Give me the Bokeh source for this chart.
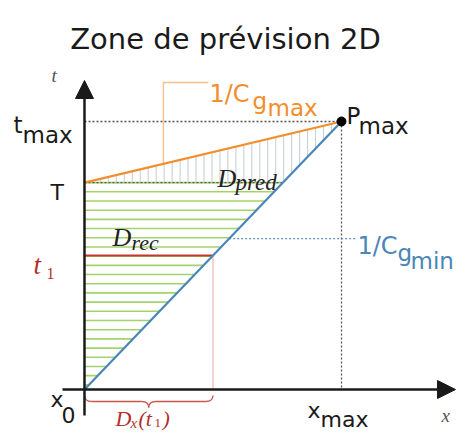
import numpy as np
from bokeh.plotting import figure
from bokeh.models import Range1d, Label, Arrow, NormalHead
from bokeh.embed import file_html
from bokeh.resources import INLINE

# ---- data (diagram values) ----
x_0 = 0.0
x_max = 1.0
t_max = 1.0
T = 0.772
t_1 = 0.5
green_step = 0.0343   # spacing of D_rec hatching (in t)
pred_step = 0.031     # spacing of D_pred hatching (in x)

title = "Zone de prévision 2D"

ORANGE = "#f28e2b"
BLUE = "#4a86b8"
RED = "#c0392b"
TXT_RED = "#b3302a"
GREEN = "#a3d36b"
HATCH = "#c8d0da"
GRAY = "#555555"
INK = "#1a1a1a"

def x_on_blue(t):
    return x_0 + (t / t_max) * (x_max - x_0)

def t_on_orange(x):
    return T + (t_max - T) * (x - x_0) / (x_max - x_0)

p = figure(width=456, height=432, x_range=Range1d(-0.3268, 1.4475),
           y_range=Range1d(-0.1604, 1.4515), output_backend="svg",
           toolbar_location=None, x_axis_type=None, y_axis_type=None,
           title=None, min_border=0, min_border_left=0, min_border_right=0,
           min_border_top=0, min_border_bottom=0)
p.grid.visible = False
p.outline_line_color = None
p.background_fill_color = "white"

# ---- D_rec green hatching ----
levels = np.arange(T, 0.0, -green_step)
p.segment(x0=[x_0] * len(levels), y0=levels, x1=[x_on_blue(v) for v in levels],
          y1=levels, line_color=GREEN, line_width=1.6)

# ---- D_pred vertical hatching ----
xs = np.arange(pred_step, x_max, pred_step)
lo = [max(T, v * t_max / x_max) for v in xs]
hi = [t_on_orange(v) for v in xs]
p.segment(x0=xs, y0=lo, x1=xs, y1=hi, line_color=HATCH, line_width=1.1)

# ---- dotted guides ----
p.line([x_0, x_max], [t_max, t_max], line_color=GRAY, line_width=1.3, line_dash="2 2")
p.line([x_max, x_max], [t_max, 0], line_color=GRAY, line_width=1.3, line_dash="2 2")
p.line([x_0, x_on_blue(T)], [T, T], line_color=GRAY, line_width=1.3, line_dash="2 2")

# t1 line and its projection
x_1 = x_on_blue(t_1)
p.line([x_0, x_1], [t_1, t_1], line_color=RED, line_width=2.2)
p.line([x_1, x_1], [t_1, 0], line_color=RED, line_width=1.1, line_dash="1 1", alpha=0.8)

# leaders
xl = 0.307
p.line([xl, xl, 0.482], [t_on_orange(xl), 1.1455, 1.1455], line_color=ORANGE,
       line_width=1.4, alpha=0.55)
tb = 0.563
p.line([x_on_blue(tb), 1.054], [tb, tb], line_color=BLUE, line_width=1.2,
       line_dash="2 2", alpha=0.9)

# main lines
p.line([x_0, x_max], [T, t_max], line_color=ORANGE, line_width=2.2)
p.line([x_0, x_max], [0, t_max], line_color=BLUE, line_width=2.2)

# axes with arrows
p.add_layout(Arrow(end=NormalHead(size=18, fill_color=INK, line_color=INK),
                   x_start=-0.0856, y_start=0, x_end=1.4436, y_end=0,
                   line_color=INK, line_width=2.5))
p.add_layout(Arrow(end=NormalHead(size=18, fill_color=INK, line_color=INK),
                   x_start=0, y_start=-0.097, x_end=0, y_end=1.153,
                   line_color=INK, line_width=2.5))

# brace under x axis from x_0 to x_1
top, mid, tip = -0.0224, -0.0448, -0.0672
q = 0.028
xm = (x_0 + x_1) / 2
p.quadratic(x0=[x_0, xm, xm, x_1], y0=[top, tip, tip, top],
            x1=[x_0 + q, xm - q, xm + q, x_1 - q], y1=[mid, mid, mid, mid],
            cx=[x_0, xm, xm, x_1], cy=[mid, mid, mid, mid],
            line_color=RED, line_width=1.3, line_alpha=0.85)
p.segment(x0=[x_0 + q, xm + q], y0=[mid, mid], x1=[xm - q, x_1 - q], y1=[mid, mid],
          line_color=RED, line_width=1.3, line_alpha=0.85)

# P_max point
p.scatter([x_max], [t_max], size=9, color="black")

# ---- text ----
def lab(text, x, y, dx, dy, size, color=INK, font="DejaVu Sans", style="normal"):
    p.add_layout(Label(x=x, y=y, x_offset=dx, y_offset=dy, text=text,
                       text_font=font, text_font_size=f"{size}px",
                       text_font_style=style, text_color=color,
                       text_baseline="alphabetic", text_align="left"))

SERIF = "Liberation Serif"

p.add_layout(Label(x=225, y=394, x_units="screen", y_units="screen", text=title,
                   text_font="DejaVu Sans", text_font_size="29px",
                   text_color=INK, text_align="center", text_baseline="alphabetic"))

lab("t", x_0, t_max, -71, -3, 23)
lab("max", x_0, t_max, -62, -13, 23)
lab("T", x_0, T, -34, -10, 22)
lab("t", x_0, t_1, -51, -9, 27, TXT_RED, SERIF, "italic")
lab("1", x_0, t_1, -38, -18, 16, TXT_RED, SERIF)
lab("x", x_0, 0, -34, -10, 22)
lab("0", x_0, 0, -23, -25, 22)
lab("x", x_max, 0, -34, -21, 22)
lab("max", x_max, 0, -21, -30, 22)
lab("P", x_max, t_max, 5, 6, 23)
lab("max", x_max, t_max, 17, -4, 23)
lab("x", x_max, 0, 100, -26, 19, "#555555", SERIF, "italic")
lab("t", x_0, t_max, -33, 46, 19, "#555555", SERIF, "italic")
lab("1/C", x_0, t_max, 125, 28, 24, ORANGE)
lab("g", x_0, t_max, 168, 21, 23, ORANGE)
lab("max", x_0, t_max, 183, 14, 23, ORANGE)
lab("1/C", x_max, t_1, 16, 10, 24, BLUE)
lab("g", x_max, t_1, 56, 3, 23, BLUE)
lab("min", x_max, t_1, 69, -5, 23, BLUE)
lab("D", x_0, T, 133, 4, 26, "#222222", SERIF, "italic")
lab("pred", x_0, T, 151, 0, 23, "#222222", SERIF, "italic")
lab("D", x_0, T, 28, -55, 26, "#222222", SERIF, "italic")
lab("rec", x_0, T, 47, -60, 22, "#222222", SERIF, "italic")
lab("D", x_0, 0, 31, -29, 22, TXT_RED, SERIF, "italic")
lab("x", x_0, 0, 46, -33, 15, TXT_RED, SERIF, "italic")
lab("(t", x_0, 0, 54, -29, 22, TXT_RED, SERIF, "italic")
lab("1", x_0, 0, 70, -33, 13, TXT_RED, SERIF)
lab(")", x_0, 0, 78, -29, 22, TXT_RED, SERIF, "italic")

open("out.html", "w").write(file_html(p, INLINE))
